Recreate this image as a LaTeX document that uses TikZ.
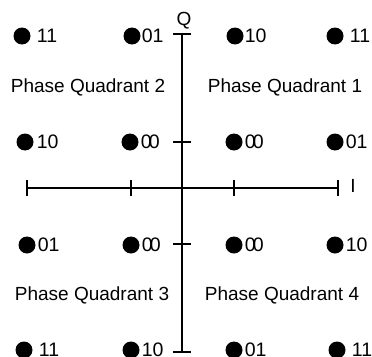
\documentclass[tikz,border=0pt]{standalone}
\usepackage{fontspec}
\setmainfont{Liberation Sans}
\begin{document}
\begin{tikzpicture}[x=1pt,y=-1pt,
  axis/.style={line width=1.7pt},
  tickmark/.style={line width=1.4pt},
  dot/.style={circle,fill=black,minimum size=17pt,inner sep=0pt},
  lbl/.style={anchor=west,inner sep=0pt,font=\fontsize{19.5}{21}\selectfont},
  quad/.style={inner sep=0pt,font=\fontsize{19}{21}\selectfont},
  axlbl/.style={inner sep=0pt,font=\fontsize{19}{21}\selectfont}]
\useasboundingbox (0,0) rectangle (372,356);
% axes
\coordinate (vt) at (182,34);
\coordinate (vb) at (182,352);
\coordinate (hl) at (27,188);
\coordinate (hr) at (338,188);
\draw[axis] (vt) -- (vb);
\draw[axis] (hl) -- (hr);
% ticks on vertical axis
\foreach \yy/\nm in {34/ta,142/tb,244/tc,352/td}{
  \coordinate (\nm l) at (173,\yy);
  \coordinate (\nm r) at (191,\yy);
  \draw[tickmark] (\nm l) -- (\nm r);
}
% ticks on horizontal axis
\foreach \xx/\nm in {27/ha,131/hb,234/hc,338/hd}{
  \coordinate (\nm t) at (\xx,180);
  \coordinate (\nm b) at (\xx,196);
  \draw[tickmark] (\nm t) -- (\nm b);
}
\node[axlbl] (Q) at (184,21) {Q};
\node[axlbl] (I) at (353,186) {I};
% row 1
\node[dot] (d11) at (22,36) {};   \node[lbl] (l11) at ([xshift=6pt]d11.east) {11};
\node[dot] (d12) at (132,36) {};  \node[lbl] (l12) at ([xshift=1pt]d12.east) {01};
\node[dot] (d13) at (235,36) {};  \node[lbl] (l13) at ([xshift=1pt]d13.east) {10};
\node[dot] (d14) at (335,36) {};  \node[lbl] (l14) at ([xshift=6pt]d14.east) {11};
% row 2
\node[dot] (d21) at (25,142) {};  \node[lbl] (l21) at ([xshift=3pt]d21.east) {10};
\node[dot] (d22) at (130,142) {}; \node[lbl] (l22) at ([xshift=2pt]d22.east) {0\kern-3pt0};
\node[dot] (d23) at (234,142) {}; \node[lbl] (l23) at ([xshift=2pt]d23.east) {0\kern-3pt0};
\node[dot] (d24) at (335,142) {}; \node[lbl] (l24) at ([xshift=2pt]d24.east) {01};
% row 3
\node[dot] (d31) at (27,245) {};  \node[lbl] (l31) at ([xshift=2pt]d31.east) {01};
\node[dot] (d32) at (131,245) {}; \node[lbl] (l32) at ([xshift=2pt]d32.east) {0\kern-3pt0};
\node[dot] (d33) at (234,245) {}; \node[lbl] (l33) at ([xshift=2pt]d33.east) {0\kern-3pt0};
\node[dot] (d34) at (335,245) {}; \node[lbl] (l34) at ([xshift=2pt]d34.east) {10};
% row 4
\node[dot] (d41) at (24,350) {};  \node[lbl] (l41) at ([xshift=6pt]d41.east) {11};
\node[dot] (d42) at (131,350) {}; \node[lbl] (l42) at ([xshift=2pt]d42.east) {10};
\node[dot] (d43) at (234,350) {}; \node[lbl] (l43) at ([xshift=2pt]d43.east) {01};
\node[dot] (d44) at (337,350) {}; \node[lbl] (l44) at ([xshift=6pt]d44.east) {11};
% quadrant labels
\node[quad] (q2) at (88,87) {Phase Quadrant 2};
\node[quad] (q1) at (285,87) {Phase Quadrant 1};
\node[quad] (q3) at (92,295) {Phase Quadrant 3};
\node[quad] (q4) at (282,295) {Phase Quadrant 4};
\end{tikzpicture}
\end{document}
